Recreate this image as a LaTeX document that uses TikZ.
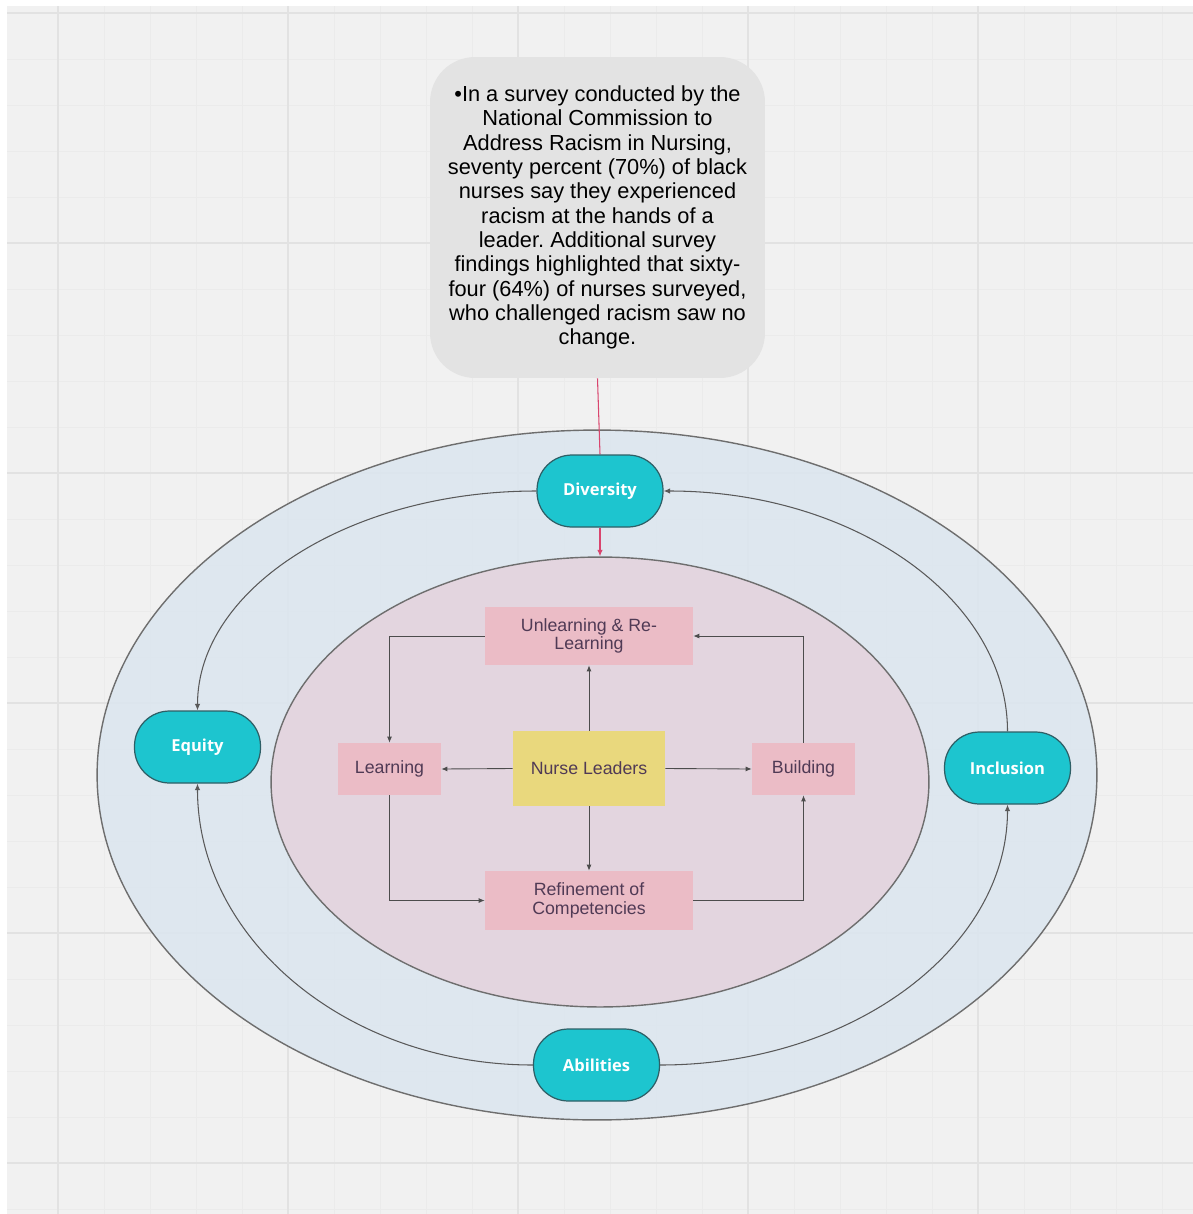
\documentclass[tikz,border=0pt]{standalone}
\usepackage{fontspec}
\setmainfont{Liberation Sans}
\newfontfamily\pillfont{Open Sans}
\usetikzlibrary{arrows.meta,shapes.geometric,positioning}
\pgfdeclarelayer{bglayer}
\pgfdeclarelayer{edgelayer}
\pgfdeclarelayer{nodelayer}
\pgfsetlayers{bglayer,edgelayer,nodelayer,main}
\frenchspacing
\definecolor{Canvas}{HTML}{F1F1F1}
\definecolor{GridMinor}{HTML}{EBEBEB}
\definecolor{GridMajor}{HTML}{E2E2E2}
\definecolor{OuterBlue}{HTML}{DCE6EF}
\definecolor{InnerPink}{HTML}{E4D4DE}
\definecolor{RingGrey}{HTML}{6E6E6E}
\definecolor{NoteGrey}{HTML}{E3E3E3}
\definecolor{BoxPink}{HTML}{EBBCC6}
\definecolor{LeadYellow}{HTML}{E9D87D}
\definecolor{BoxText}{HTML}{503A55}
\definecolor{Teal}{HTML}{1DC5CF}
\definecolor{TealEdge}{HTML}{2E5F66}
\definecolor{LinkRed}{HTML}{D9456E}
\tikzstyle{ring}=[ellipse,draw=RingGrey,line width=0.8pt,inner sep=0pt]
\tikzstyle{note}=[rectangle,fill=NoteGrey,rounded corners=0.9cm,minimum width=6.7cm,minimum height=6.42cm,align=center,font=\fontsize{12.4}{13.85}\selectfont]
\tikzstyle{pill}=[rectangle,fill=Teal,draw=TealEdge,line width=0.7pt,rounded corners=0.7cm,minimum width=2.52cm,minimum height=1.44cm,text=white,font=\pillfont\bfseries\fontsize{9.4}{11}\selectfont]
\tikzstyle{box}=[rectangle,fill=BoxPink,inner sep=0pt,align=center,text=BoxText,font=\fontsize{10.1}{10.4}\selectfont]
\tikzstyle{link}=[draw=black!70,line width=0.5pt,-{Latex[length=1.2mm,width=1mm]}]
\tikzstyle{loop}=[draw=black!65,line width=0.6pt,-{Latex[length=1.3mm,width=1.1mm]}]

\begin{document}
\begin{tikzpicture}[x=0.02cm,y=-0.02cm]
	\useasboundingbox (0,0) rectangle (1193,1214);
	\begin{pgfonlayer}{bglayer}
		% canvas and grid
		\fill[white] (0,0) rectangle (1193,1214);
		\fill[Canvas] (7,6) rectangle (1193,1214);
		\foreach \gx in {58,104,...,1193} \draw[GridMinor,line width=0.4pt] (\gx,6) -- (\gx,1214);
		\foreach \gy in {13,59,...,1214} \draw[GridMinor,line width=0.4pt] (7,\gy) -- (1193,\gy);
		\foreach \gx in {58,288,...,1193} \draw[GridMajor,line width=0.8pt] (\gx,6) -- (\gx,1214);
		\foreach \gy in {13,243,...,1214} \draw[GridMajor,line width=0.8pt] (7,\gy) -- (1193,\gy);
		% the two rings
		\node [ring,fill=OuterBlue,fill opacity=0.9,minimum width=20cm,minimum height=13.8cm] (outer) at (597,775) {};
		\node [ring,fill=InnerPink,fill opacity=0.9,minimum width=13.16cm,minimum height=9cm] (inner) at (600,782) {};
	\end{pgfonlayer}
	\begin{pgfonlayer}{nodelayer}
		\node [note] (note) at (597.5,217.5) {%
			•In a survey conducted by the\\
			National Commission to\\
			Address Racism in Nursing,\\
			seventy percent (70\%) of black\\
			nurses say they experienced\\
			racism at the hands of a\\
			leader. Additional survey\\
			findings highlighted that sixty-\\
			four (64\%) of nurses surveyed,\\
			who challenged racism saw no\\
			change.};
		\node [pill] (div) at (600,491) {Diversity};
		\node [pill] (equ) at (197.5,747) {Equity};
		\node [pill] (inc) at (1007.5,768) {Inclusion};
		\node [pill] (abi) at (596.5,1065) {Abilities};
		\node [box,minimum width=4.16cm,minimum height=1.16cm] (unl) at (589,636) {Unlearning \& Re-\\Learning};
		\node [box,minimum width=2.06cm,minimum height=1.04cm] (lrn) at (389.5,769) {Learning};
		\node [box,minimum width=2.06cm,minimum height=1.04cm] (bld) at (803.5,769) {Building};
		\node [box,minimum width=4.16cm,minimum height=1.18cm] (ref) at (589,900.5) {Refinement of\\Competencies};
		\node [box,fill=LeadYellow,minimum width=3.04cm,minimum height=1.5cm] (nl) at (589,768.5) {Nurse Leaders};
	\end{pgfonlayer}
	\begin{pgfonlayer}{edgelayer}
		\draw [LinkRed,line width=0.6pt] (note.south) to (div.north);
		\draw [LinkRed,line width=0.6pt,-{Latex[length=1.3mm,width=1.1mm]}] (div.south) to (inner.north);
		\draw [loop] (div.west) .. controls +(-188,0) and +(0,-121) .. (equ.north);
		\draw [loop] (inc.north) .. controls +(0,-133) and +(190,0) .. (div.east);
		\draw [loop] (abi.west) .. controls +(-185,0) and +(0,156) .. (equ.south);
		\draw [loop] (abi.east) .. controls +(192,0) and +(0,144) .. (inc.south);
		\draw [link] (nl.north) to (unl.south);
		\draw [link] (nl.west) to (lrn.east);
		\draw [link] (nl.east) to (bld.west);
		\draw [link] (nl.south) to (ref.north);
		\draw [link] (unl.west) -| (lrn.north);
		\draw [link] (lrn.south) |- (ref.west);
		\draw [link] (ref.east) -| (bld.south);
		\draw [link] (bld.north) |- (unl.east);
	\end{pgfonlayer}
\end{tikzpicture}
\end{document}
